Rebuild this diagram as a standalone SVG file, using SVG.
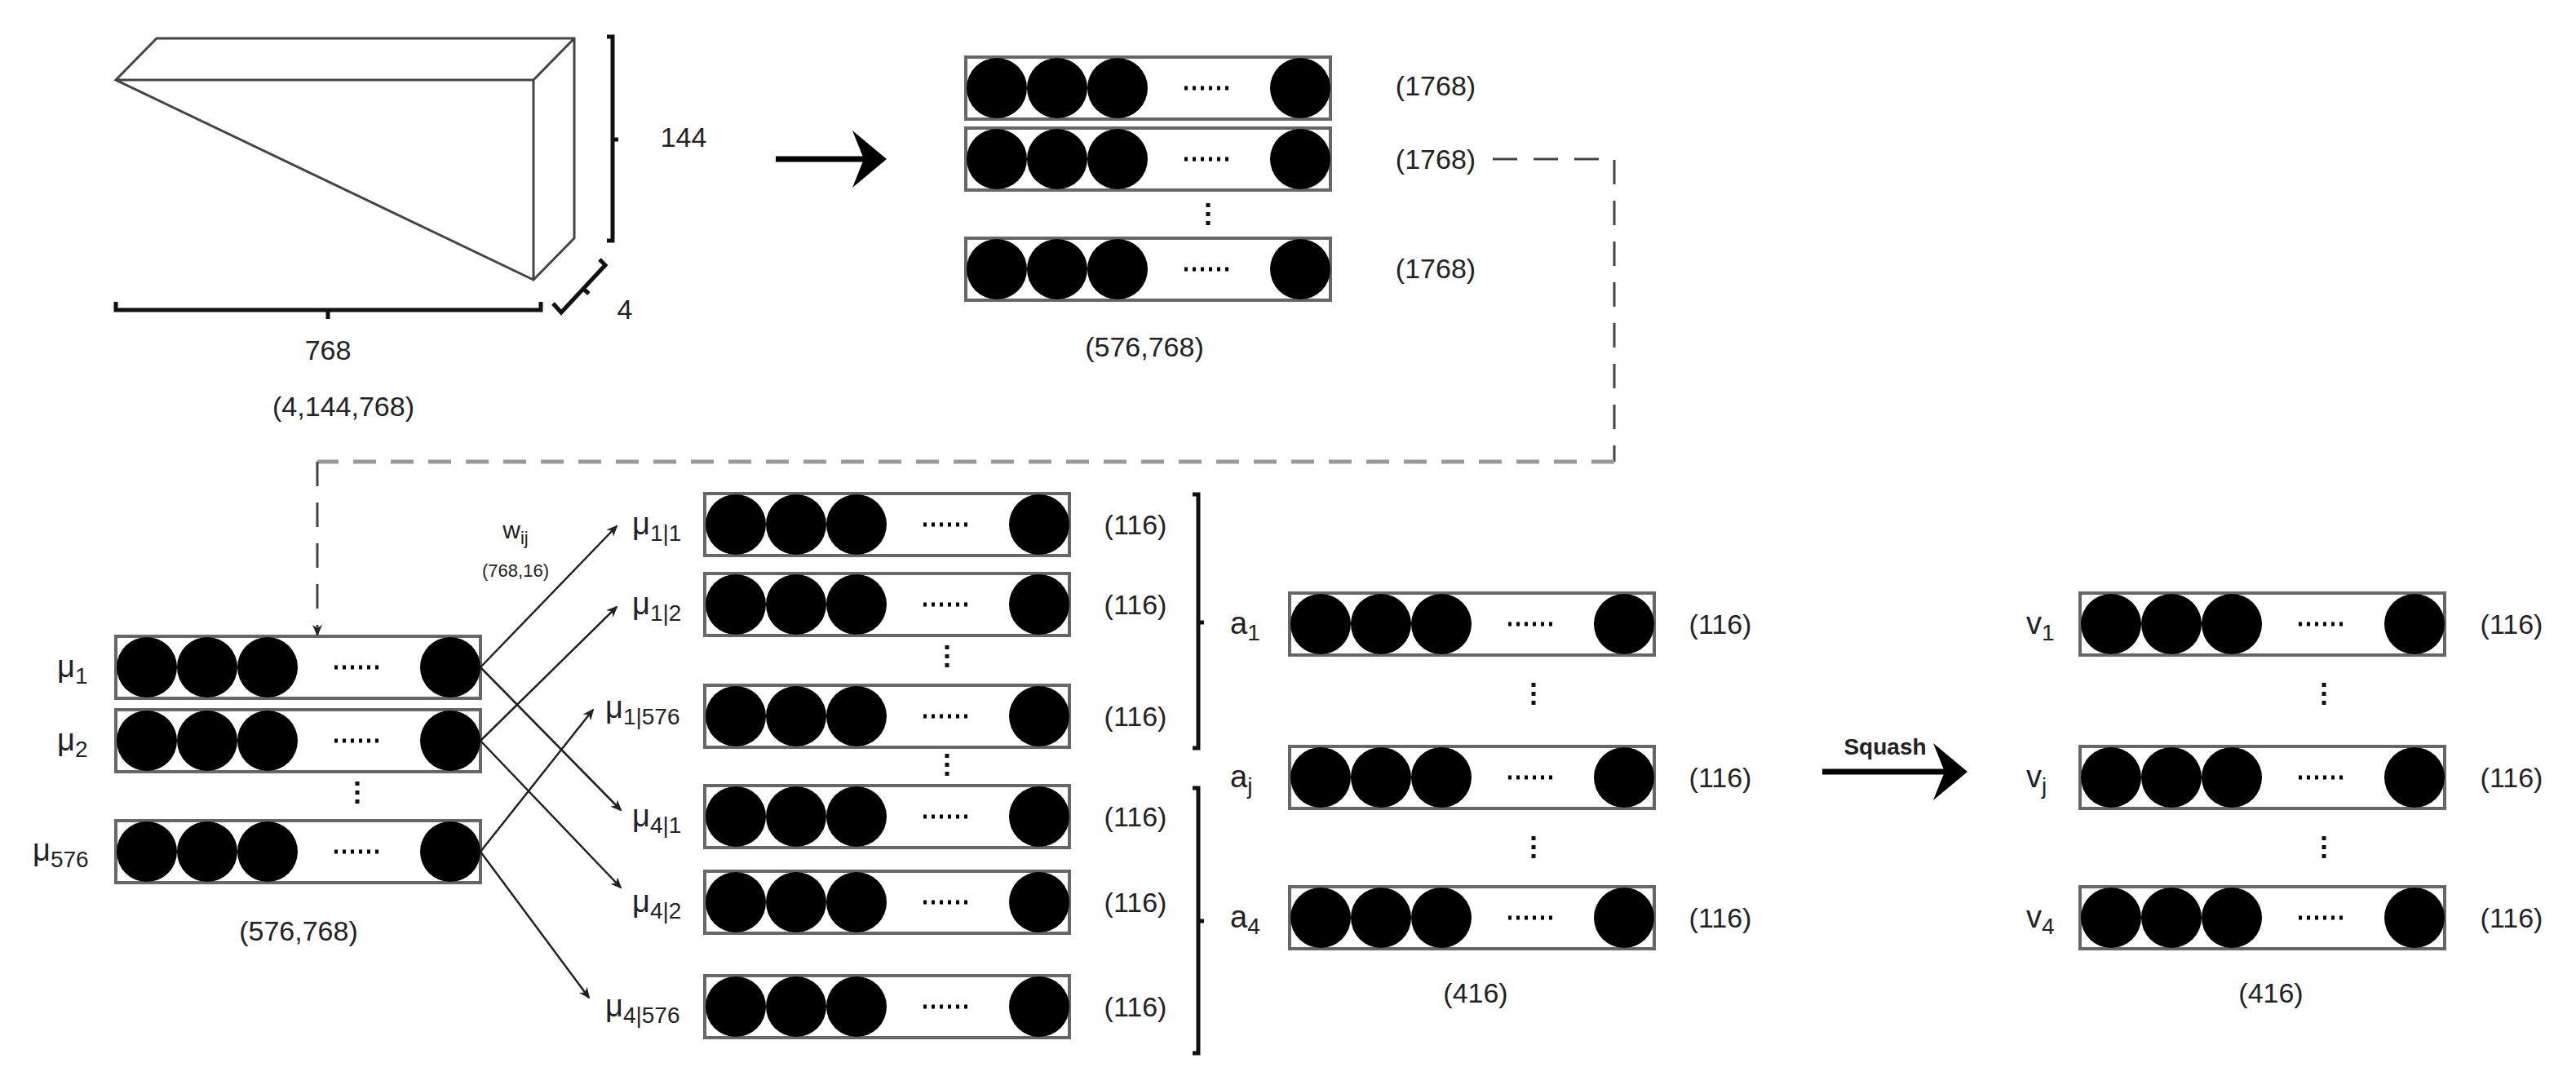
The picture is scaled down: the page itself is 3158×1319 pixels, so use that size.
<svg xmlns="http://www.w3.org/2000/svg" xmlns:xlink="http://www.w3.org/1999/xlink" width="3158" height="1319" viewBox="0 0 3158 1319">
<style>
text{font-family:"Liberation Sans",Arial,sans-serif;fill:#222;}
.lbl{font-size:34px;text-anchor:middle;}
.sym{font-size:38px;}
.br{fill:none;stroke:#111;stroke-width:5;}
.rr{fill:#fff;stroke:#666;stroke-width:4;}
.c{fill:#000;}
.dash{fill:none;stroke:#999;stroke-width:5;stroke-dasharray:28 18;}
.dashb{fill:none;stroke:#444;stroke-width:3;stroke-dasharray:30 20;}
.ar{fill:none;stroke:#222;stroke-width:2.5;marker-end:url(#ah);}
.vd{stroke:#111;stroke-width:5;stroke-dasharray:5 6;}
</style>
<defs>
<marker id="ah" markerWidth="14" markerHeight="12" refX="12" refY="6" orient="auto" markerUnits="userSpaceOnUse"><path d="M0,0 L14,6 L0,12 L4,6 Z" fill="#222"/></marker>
<marker id="ahb" markerWidth="10" markerHeight="10" refX="5" refY="5" orient="auto" markerUnits="strokeWidth"><path d="M0,0 L6,5 L0,10 L2,5 Z" fill="#000"/></marker>
<g id="row">
<rect class="rr" x="0" y="0" width="447" height="76"/>
<ellipse class="c" cx="38" cy="38" rx="37" ry="37"/>
<ellipse class="c" cx="112" cy="38" rx="37" ry="37"/>
<ellipse class="c" cx="186" cy="38" rx="37" ry="37"/>
<ellipse class="c" cx="410" cy="38" rx="37" ry="37"/>
<line x1="268" y1="38" x2="328" y2="38" stroke="#000" stroke-width="5" stroke-dasharray="4 6"/>
</g>
</defs>
<rect width="3158" height="1319" fill="#fff"/>

<g id="tensor">
<path d="M142,98 L192,47 L704,47 L704,292 L654,343 Z M142,98 L654,98 L704,47 M654,98 L654,343" fill="#fff" stroke="#444" stroke-width="3"/>
<path class="br" d="M744,45 L751,45 L751,295 L744,295 M751,171 L758,171"/>
<text class="lbl" x="838" y="180">144</text>
<path class="br" d="M142,370 L142,380 L663,380 L663,370 M402,380 L402,391"/>
<text class="lbl" x="402" y="441">768</text>
<path class="br" d="M678,372 L688,383 L742,325 L735,318 M715,354 L722,360"/>
<text class="lbl" x="766" y="391">4</text>
<text class="lbl" x="421" y="510">(4,144,768)</text>
</g>

<g id="arrow1"><line x1="951" y1="195" x2="1080" y2="195" stroke="#000" stroke-width="7" marker-end="url(#ahb)"/></g>

<g id="top-rows">
<use href="#row" x="1184" y="70"/>
<use href="#row" x="1184" y="157"/>
<use href="#row" x="1184" y="292"/>
<line class="vd" x1="1481" y1="249" x2="1481" y2="278"/>
<text class="lbl" x="1760" y="117">(1768)</text>
<text class="lbl" x="1760" y="207">(1768)</text>
<text class="lbl" x="1760" y="341">(1768)</text>
<text class="lbl" x="1403" y="437">(576,768)</text>
</g>

<g id="u-rows">
<use href="#row" x="142" y="780"/>
<use href="#row" x="142" y="870"/>
<use href="#row" x="142" y="1006"/>
<line class="vd" x1="438" y1="958" x2="438" y2="990"/>
<text class="sym" x="70" y="830">μ<tspan font-size="28" dy="8">1</tspan></text>
<text class="sym" x="70" y="920">μ<tspan font-size="28" dy="8">2</tspan></text>
<text class="sym" x="40" y="1055">μ<tspan font-size="28" dy="8">576</tspan></text>
<text class="lbl" x="366" y="1153">(576,768)</text>
</g>

<g id="uhat-rows">
<use href="#row" x="864" y="605"/>
<use href="#row" x="864" y="703"/>
<use href="#row" x="864" y="840"/>
<use href="#row" x="864" y="963"/>
<use href="#row" x="864" y="1068"/>
<use href="#row" x="864" y="1196"/>
<line class="vd" x1="1161" y1="791" x2="1161" y2="822"/>
<line class="vd" x1="1161" y1="924" x2="1161" y2="954"/>
<text class="sym" x="775" y="655">μ<tspan font-size="28" dy="8">1|1</tspan></text>
<text class="sym" x="775" y="753">μ<tspan font-size="28" dy="8">1|2</tspan></text>
<text class="sym" x="742" y="880">μ<tspan font-size="28" dy="8">1|576</tspan></text>
<text class="sym" x="775" y="1013">μ<tspan font-size="28" dy="8">4|1</tspan></text>
<text class="sym" x="775" y="1118">μ<tspan font-size="28" dy="8">4|2</tspan></text>
<text class="sym" x="742" y="1246">μ<tspan font-size="28" dy="8">4|576</tspan></text>
<text class="lbl" x="1392" y="655">(116)</text>
<text class="lbl" x="1392" y="753">(116)</text>
<text class="lbl" x="1392" y="890">(116)</text>
<text class="lbl" x="1392" y="1013">(116)</text>
<text class="lbl" x="1392" y="1118">(116)</text>
<text class="lbl" x="1392" y="1246">(116)</text>
<path class="br" d="M1462,606 L1469,606 L1469,917 L1462,917 M1469,763 L1476,763"/>
<path class="br" d="M1462,966 L1469,966 L1469,1291 L1462,1291 M1469,1129 L1476,1129"/>
<text x="632" y="660" font-size="30" text-anchor="middle">w<tspan font-size="22" dy="7">ij</tspan></text>
<text x="632" y="707" font-size="22" text-anchor="middle">(768,16)</text>
</g>

<g id="a-rows">
<use href="#row" x="1581" y="727"/>
<use href="#row" x="1581" y="915"/>
<use href="#row" x="1581" y="1087"/>
<line class="vd" x1="1880" y1="837" x2="1880" y2="868"/>
<line class="vd" x1="1880" y1="1025" x2="1880" y2="1057"/>
<text class="sym" x="1508" y="777">a<tspan font-size="28" dy="8">1</tspan></text>
<text class="sym" x="1508" y="965">a<tspan font-size="28" dy="8">j</tspan></text>
<text class="sym" x="1508" y="1137">a<tspan font-size="28" dy="8">4</tspan></text>
<text class="lbl" x="2109" y="777">(116)</text>
<text class="lbl" x="2109" y="965">(116)</text>
<text class="lbl" x="2109" y="1137">(116)</text>
<text class="lbl" x="1809" y="1229">(416)</text>
</g>

<g id="squash">
<line x1="2234" y1="946" x2="2405" y2="946" stroke="#000" stroke-width="7" marker-end="url(#ahb)"/>
<text x="2311" y="925" font-size="28" font-weight="bold" text-anchor="middle">Squash</text>
</g>

<g id="v-rows">
<use href="#row" x="2550" y="727"/>
<use href="#row" x="2550" y="915"/>
<use href="#row" x="2550" y="1087"/>
<line class="vd" x1="2849" y1="837" x2="2849" y2="868"/>
<line class="vd" x1="2849" y1="1025" x2="2849" y2="1057"/>
<text class="sym" x="2484" y="777">v<tspan font-size="28" dy="8">1</tspan></text>
<text class="sym" x="2484" y="965">v<tspan font-size="28" dy="8">j</tspan></text>
<text class="sym" x="2484" y="1137">v<tspan font-size="28" dy="8">4</tspan></text>
<text class="lbl" x="3079" y="777">(116)</text>
<text class="lbl" x="3079" y="965">(116)</text>
<text class="lbl" x="3079" y="1137">(116)</text>
<text class="lbl" x="2784" y="1229">(416)</text>
</g>

<g id="connectors">
<path class="dashb" d="M1830,195 L1979,195 L1979,566"/>
<path class="dash" d="M1979,566 L389,566"/>
<path class="dashb" d="M389,566 L389,778" marker-end="url(#ah)"/>
<line class="ar" x1="589" y1="818" x2="756" y2="645"/>
<line class="ar" x1="589" y1="818" x2="761" y2="993"/>
<line class="ar" x1="589" y1="908" x2="756" y2="744"/>
<line class="ar" x1="589" y1="908" x2="761" y2="1088"/>
<line class="ar" x1="589" y1="1044" x2="727" y2="870"/>
<line class="ar" x1="589" y1="1044" x2="722" y2="1223"/>
</g>
</svg>
